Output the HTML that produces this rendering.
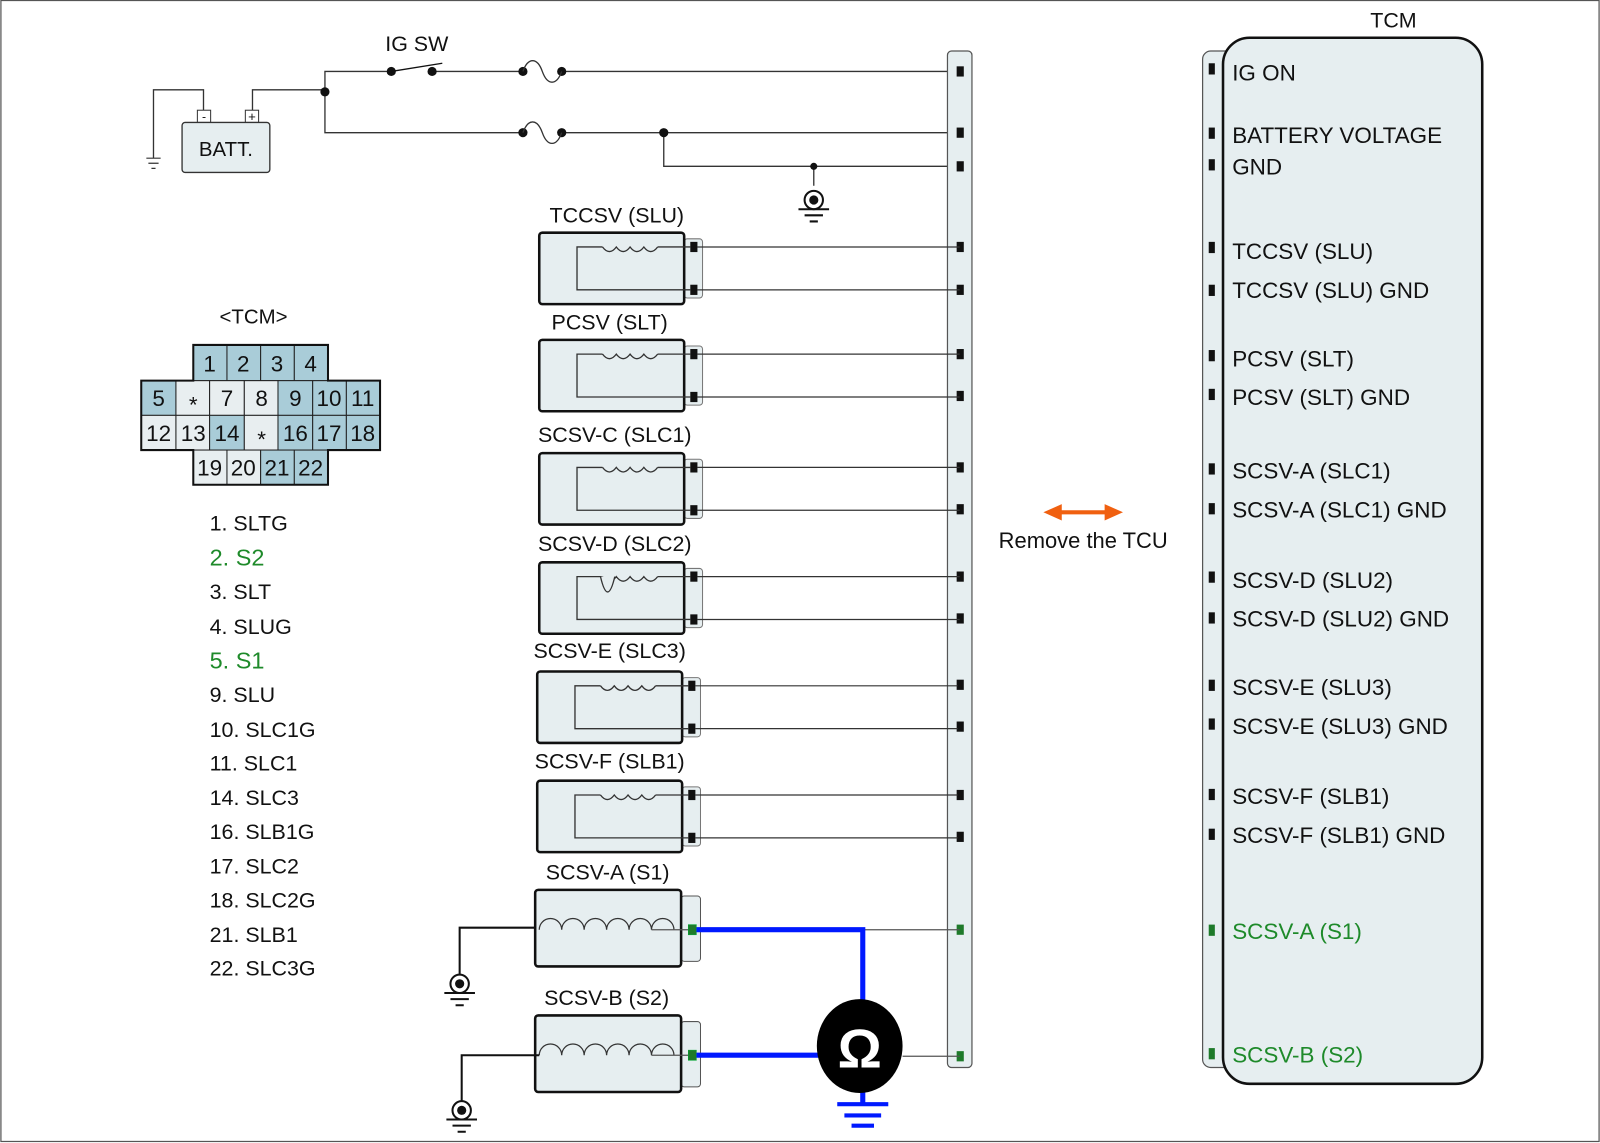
<!DOCTYPE html>
<html><head><meta charset="utf-8"><style>
html,body{margin:0;padding:0;background:#fff}
svg{display:block}
text{font-family:"Liberation Sans",Arial,sans-serif;fill:#111}
.g{fill:#1e8a2a}
</style></head><body>
<svg width="1600" height="1143" viewBox="0 0 1567 1120" xmlns="http://www.w3.org/2000/svg">
<defs>
<g id="sol">
 <rect x="142" y="6" width="18" height="58" rx="3" fill="#e6eef0" stroke="#777" stroke-width="1"/>
 <rect x="0" y="0" width="142" height="70" rx="3" fill="#e6eef0" stroke="#111" stroke-width="2.5"/>
 <path d="M148,14 H116 M62,14 H37 V56 H148" fill="none" stroke="#333" stroke-width="1.3"/>
 <path d="M62,14 q6.75,9 13.5,0 q6.75,9 13.5,0 q6.75,9 13.5,0 q6.75,9 13.5,0" fill="none" stroke="#333" stroke-width="1.3"/>
 <rect x="148" y="9" width="7" height="10" fill="#111"/>
 <rect x="148" y="51" width="7" height="10" fill="#111"/>
 <path d="M155,14 H412 M155,56 H412" stroke="#333" stroke-width="1.2"/>
</g>
<g id="big">
 <rect x="143" y="6" width="19" height="64" rx="3" fill="#e6eef0" stroke="#555" stroke-width="1"/>
 <rect x="0" y="0" width="143" height="75" rx="3" fill="#e6eef0" stroke="#111" stroke-width="2.5"/>
 <path d="M4,39 a11,11 0 0 1 22,0 a11,11 0 0 1 22,0 a11,11 0 0 1 22,0 a11,11 0 0 1 22,0 a11,11 0 0 1 22,0 a11,11 0 0 1 22,0" fill="none" stroke="#333" stroke-width="1.2"/>
 <path d="M114,39 H150" stroke="#555" stroke-width="1.2"/>
 <rect x="150" y="34" width="8" height="10" fill="#1e7a2a" stroke="#0a3" stroke-width="0.5"/>
</g>
<g id="gnd">
 <circle cx="0" cy="0" r="9" fill="#fff" stroke="#111" stroke-width="2"/>
 <circle cx="0" cy="0" r="4.5" fill="#111"/>
 <path d="M-15,9 H15 M-9,15 H9 M-4,21 H4" stroke="#111" stroke-width="2"/>
</g>
</defs>
<rect x="0.5" y="0.5" width="1566" height="1118" fill="#fff" stroke="#555" stroke-width="1.2"/>

<!-- battery -->
<path d="M199,118 V88 H150 V155 M247,118 V88 H318 M318,90 V70 H383 M423,70 H512 M550,70 H940 M318,90 V130 H512 M550,130 H940 M650,130 V163 H940 M797,163 V182" fill="none" stroke="#333" stroke-width="1.3"/>
<path d="M143,155 H157 M145,160 H155 M148,165 H152" stroke="#333" stroke-width="1.2"/>
<rect x="193" y="108" width="13" height="12" fill="#fff" stroke="#333"/>
<rect x="240" y="108" width="13" height="12" fill="#fff" stroke="#333"/>
<text x="199.5" y="118" font-size="12" text-anchor="middle">-</text>
<text x="246.5" y="118.5" font-size="13" text-anchor="middle">+</text>
<rect x="178" y="120" width="86" height="49" rx="3" fill="#e6eef0" stroke="#333" stroke-width="1.3"/>
<text x="221" y="153" font-size="20" text-anchor="middle">BATT.</text>
<circle cx="318" cy="90" r="4.5" fill="#111"/>
<text x="408" y="50" font-size="21" text-anchor="middle">IG SW</text>
<circle cx="383" cy="70" r="4.5" fill="#111"/><circle cx="423" cy="70" r="4.5" fill="#111"/>
<path d="M383,70 L433,62" stroke="#111" stroke-width="1.3"/>
<circle cx="512" cy="70" r="4.5" fill="#111"/><circle cx="550" cy="70" r="4.5" fill="#111"/>
<path d="M512,70 c5,-14 14,-14 19,0 c5,14 14,14 19,0" fill="none" stroke="#333" stroke-width="1.3"/>
<circle cx="512" cy="130" r="4.5" fill="#111"/><circle cx="550" cy="130" r="4.5" fill="#111"/>
<path d="M512,130 c5,-14 14,-14 19,0 c5,14 14,14 19,0" fill="none" stroke="#333" stroke-width="1.3"/>
<circle cx="650" cy="130" r="4.5" fill="#111"/><circle cx="797" cy="163" r="3.5" fill="#111"/>
<use href="#gnd" x="797" y="196"/>

<!-- connector bar -->
<rect x="928" y="50" width="24" height="996" rx="4" fill="#e6eef0" stroke="#555" stroke-width="1.2"/>
<g fill="#111">
<rect x="937" y="65" width="7" height="10"/><rect x="937" y="125" width="7" height="10"/><rect x="937" y="158" width="7" height="10"/>
<rect x="937" y="237" width="7" height="10"/><rect x="937" y="279" width="7" height="10"/>
<rect x="937" y="342" width="7" height="10"/><rect x="937" y="383" width="7" height="10"/>
<rect x="937" y="453" width="7" height="10"/><rect x="937" y="494" width="7" height="10"/>
<rect x="937" y="560" width="7" height="10"/><rect x="937" y="601" width="7" height="10"/>
<rect x="937" y="666" width="7" height="10"/><rect x="937" y="707" width="7" height="10"/>
<rect x="937" y="774" width="7" height="10"/><rect x="937" y="815" width="7" height="10"/>
</g>
<rect x="937" y="906" width="7" height="10" fill="#1e7a2a"/>
<rect x="937" y="1030" width="7" height="10" fill="#1e7a2a"/>

<!-- solenoids -->
<g font-size="21" text-anchor="middle">
<text x="604" y="218">TCCSV (SLU)</text>
<text x="597" y="323">PCSV (SLT)</text>
<text x="602" y="433">SCSV-C (SLC1)</text>
<text x="602" y="540">SCSV-D (SLC2)</text>
<text x="597" y="645">SCSV-E (SLC3)</text>
<text x="597" y="753">SCSV-F (SLB1)</text>
<text x="595" y="862">SCSV-A (S1)</text>
<text x="594" y="985">SCSV-B (S2)</text>
</g>
<use href="#sol" x="528" y="228"/>
<use href="#sol" x="528" y="333"/>
<use href="#sol" x="528" y="444"/>
<use href="#sol" x="528" y="551"/>
<path d="M588,565 q7,30 14,0" fill="#e6eef0" stroke="#333" stroke-width="1.3"/>
<use href="#sol" x="526" y="658"/>
<use href="#sol" x="526" y="765"/>

<use href="#big" x="524" y="872"/>
<use href="#big" x="524" y="995"/>
<path d="M524,909 H450 V957 M528,1034 H452 V1082" fill="none" stroke="#111" stroke-width="2"/>
<use href="#gnd" x="450" y="964"/>
<use href="#gnd" x="452" y="1088"/>
<path d="M845,911 H940 M884,1035 H940" stroke="#555" stroke-width="1.2"/>
<path d="M682,911 H845 V990 M682,1034 H805 M845,1060 V1082" fill="none" stroke="#0019ff" stroke-width="5"/>
<path d="M820,1082 H870 M827,1093 H863 M834,1103 H856" stroke="#0019ff" stroke-width="4"/>
<ellipse cx="842" cy="1025" rx="42" ry="46" fill="#000"/>
<text x="842" y="1046" font-size="54" font-weight="bold" text-anchor="middle" style="fill:#fff">Ω</text>

<!-- arrow -->
<path d="M1036,502 H1087" stroke="#f06010" stroke-width="4"/>
<path d="M1022,502 L1040,494 L1040,510 Z M1100,502 L1082,494 L1082,510 Z" fill="#f06010"/>
<text x="1061" y="537" font-size="21.5" text-anchor="middle">Remove the TCU</text>

<!-- TCM -->
<text x="1365" y="27" font-size="21" text-anchor="middle">TCM</text>
<rect x="1178" y="50" width="40" height="996" rx="8" fill="#e6eef0" stroke="#555" stroke-width="1.2"/>
<rect x="1198" y="37" width="254" height="1025" rx="26" fill="#e6eef0" stroke="#111" stroke-width="2.5"/>
<g fill="#111">
<rect x="1184" y="62" width="6" height="11"/><rect x="1184" y="125" width="6" height="11"/><rect x="1184" y="156" width="6" height="11"/>
<rect x="1184" y="237" width="6" height="11"/><rect x="1184" y="279" width="6" height="11"/>
<rect x="1184" y="343" width="6" height="11"/><rect x="1184" y="381" width="6" height="11"/>
<rect x="1184" y="454" width="6" height="11"/><rect x="1184" y="493" width="6" height="11"/>
<rect x="1184" y="560" width="6" height="11"/><rect x="1184" y="600" width="6" height="11"/>
<rect x="1184" y="666" width="6" height="11"/><rect x="1184" y="704" width="6" height="11"/>
<rect x="1184" y="773" width="6" height="11"/><rect x="1184" y="812" width="6" height="11"/>
</g>
<rect x="1184" y="906" width="6" height="11" fill="#1e7a2a"/><rect x="1184" y="1027" width="6" height="11" fill="#1e7a2a"/>
<g font-size="22">
<text x="1207" y="79">IG ON</text>
<text x="1207" y="140">BATTERY VOLTAGE</text>
<text x="1207" y="171">GND</text>
<text x="1207" y="254">TCCSV (SLU)</text>
<text x="1207" y="292">TCCSV (SLU) GND</text>
<text x="1207" y="359">PCSV (SLT)</text>
<text x="1207" y="397">PCSV (SLT) GND</text>
<text x="1207" y="469">SCSV-A (SLC1)</text>
<text x="1207" y="507">SCSV-A (SLC1) GND</text>
<text x="1207" y="576">SCSV-D (SLU2)</text>
<text x="1207" y="614">SCSV-D (SLU2) GND</text>
<text x="1207" y="681">SCSV-E (SLU3)</text>
<text x="1207" y="719">SCSV-E (SLU3) GND</text>
<text x="1207" y="788">SCSV-F (SLB1)</text>
<text x="1207" y="826">SCSV-F (SLB1) GND</text>
<text x="1207" y="920" class="g">SCSV-A (S1)</text>
<text x="1207" y="1041" class="g">SCSV-B (S2)</text>
</g>

<!-- connector grid -->
<text x="248" y="317" font-size="20" text-anchor="middle">&lt;TCM&gt;</text>
<g stroke="#222" stroke-width="1">
<rect x="189" y="338" width="33" height="35" fill="#a9ccd8"/><rect x="222" y="338" width="33" height="35" fill="#a9ccd8"/><rect x="255" y="338" width="33" height="35" fill="#a9ccd8"/><rect x="288" y="338" width="33" height="35" fill="#a9ccd8"/>
<rect x="138" y="373" width="34" height="34" fill="#a9ccd8"/><rect x="172" y="373" width="33" height="34" fill="#e8eef0"/><rect x="205" y="373" width="34" height="34" fill="#e8eef0"/><rect x="239" y="373" width="33" height="34" fill="#e8eef0"/><rect x="272" y="373" width="34" height="34" fill="#a9ccd8"/><rect x="306" y="373" width="33" height="34" fill="#a9ccd8"/><rect x="339" y="373" width="33" height="34" fill="#a9ccd8"/>
<rect x="138" y="407" width="34" height="34" fill="#e8eef0"/><rect x="172" y="407" width="33" height="34" fill="#e8eef0"/><rect x="205" y="407" width="34" height="34" fill="#a9ccd8"/><rect x="239" y="407" width="33" height="34" fill="#e8eef0"/><rect x="272" y="407" width="34" height="34" fill="#a9ccd8"/><rect x="306" y="407" width="33" height="34" fill="#a9ccd8"/><rect x="339" y="407" width="33" height="34" fill="#a9ccd8"/>
<rect x="189" y="441" width="33" height="34" fill="#e8eef0"/><rect x="222" y="441" width="33" height="34" fill="#e8eef0"/><rect x="255" y="441" width="33" height="34" fill="#a9ccd8"/><rect x="288" y="441" width="33" height="34" fill="#a9ccd8"/>
</g>
<path d="M189,338 H321 V373 H372 V441 H321 V475 H189 V441 H138 V373 H189 Z" fill="none" stroke="#111" stroke-width="2"/>
<g font-size="22" text-anchor="middle">
<text x="205" y="364">1</text><text x="238" y="364">2</text><text x="271" y="364">3</text><text x="304" y="364">4</text>
<text x="155" y="398">5</text><text x="189" y="404">*</text><text x="222" y="398">7</text><text x="256" y="398">8</text><text x="289" y="398">9</text><text x="322" y="398">10</text><text x="355" y="398">11</text>
<text x="155" y="432">12</text><text x="189" y="432">13</text><text x="222" y="432">14</text><text x="256" y="438">*</text><text x="289" y="432">16</text><text x="322" y="432">17</text><text x="355" y="432">18</text>
<text x="205" y="466">19</text><text x="238" y="466">20</text><text x="271" y="466">21</text><text x="304" y="466">22</text>
</g>
<g font-size="21">
<text x="205" y="520">1. SLTG</text>
<text x="205" y="554" class="g" font-size="23">2. S2</text>
<text x="205" y="587">3. SLT</text>
<text x="205" y="621">4. SLUG</text>
<text x="205" y="655" class="g" font-size="23">5. S1</text>
<text x="205" y="688">9. SLU</text>
<text x="205" y="722">10. SLC1G</text>
<text x="205" y="755">11. SLC1</text>
<text x="205" y="789">14. SLC3</text>
<text x="205" y="822">16. SLB1G</text>
<text x="205" y="856">17. SLC2</text>
<text x="205" y="889">18. SLC2G</text>
<text x="205" y="923">21. SLB1</text>
<text x="205" y="956">22. SLC3G</text>
</g>
</svg>
</body></html>
